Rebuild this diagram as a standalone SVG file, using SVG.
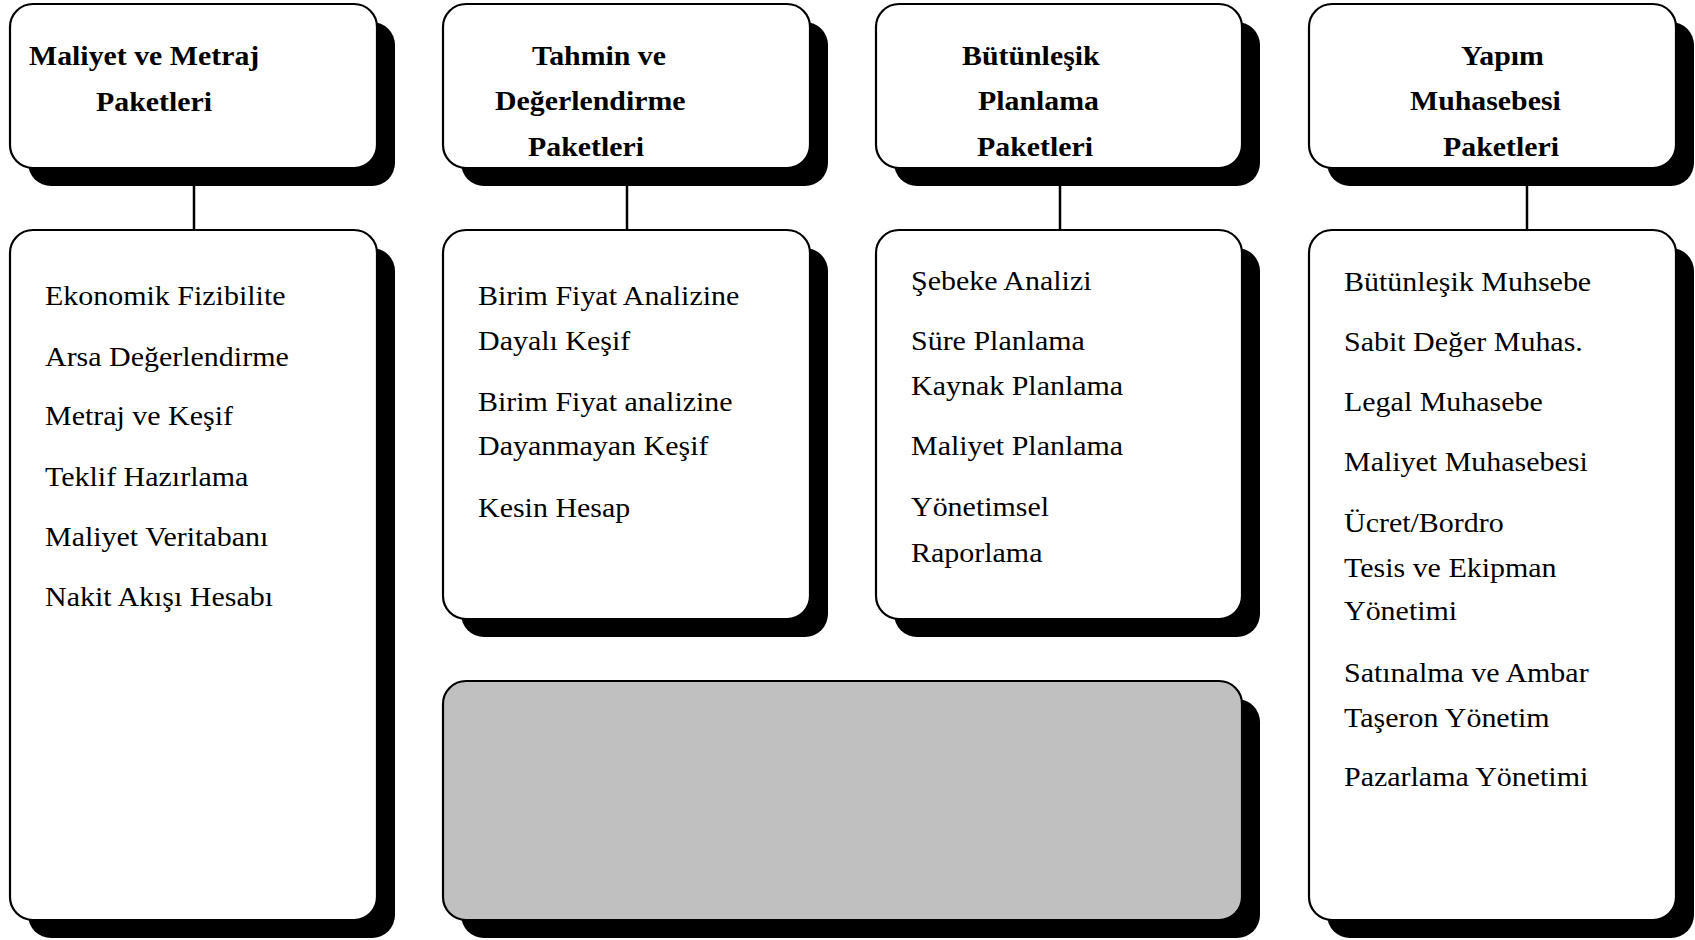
<svg xmlns="http://www.w3.org/2000/svg" width="1695" height="940" viewBox="0 0 1695 940">
<style>
.sh{fill:#000;stroke:none}
.bx{fill:#fff;stroke:#000;stroke-width:2.2}
.gr{fill:#c0c0c0;stroke:#000;stroke-width:2.2}
.t{font-family:"Liberation Serif","Times New Roman",serif;font-size:27.5px;fill:#000}
.h{font-family:"Liberation Serif","Times New Roman",serif;font-size:27.5px;font-weight:bold;fill:#000}
.cn{stroke:#000;stroke-width:2.5;fill:none}
</style>
<rect width="1695" height="940" fill="#fff"/>
<g id="connectors">
<line class="cn" x1="194" y1="180" x2="194" y2="231"/>
<line class="cn" x1="627" y1="180" x2="627" y2="231"/>
<line class="cn" x1="1060" y1="180" x2="1060" y2="231"/>
<line class="cn" x1="1527" y1="180" x2="1527" y2="231"/>
</g>
<g id="head1">
<rect class="sh" x="28" y="22" width="367" height="164" rx="23"/>
<rect class="bx" x="10" y="4" width="367" height="164" rx="23"/>
<text class="h" transform="translate(29 65) scale(1.085 1)">Maliyet ve Metraj</text>
<text class="h" transform="translate(96 111) scale(1.085 1)">Paketleri</text>
</g>
<g id="head2">
<rect class="sh" x="461" y="22" width="367" height="164" rx="23"/>
<rect class="bx" x="443" y="4" width="367" height="164" rx="23"/>
<text class="h" transform="translate(532 65) scale(1.085 1)">Tahmin ve</text>
<text class="h" transform="translate(495 110) scale(1.085 1)">Değerlendirme</text>
<text class="h" transform="translate(528 156) scale(1.085 1)">Paketleri</text>
</g>
<g id="head3">
<rect class="sh" x="894" y="22" width="366" height="164" rx="23"/>
<rect class="bx" x="876" y="4" width="366" height="164" rx="23"/>
<text class="h" transform="translate(962 65) scale(1.085 1)">Bütünleşik</text>
<text class="h" transform="translate(978 110) scale(1.085 1)">Planlama</text>
<text class="h" transform="translate(977 156) scale(1.085 1)">Paketleri</text>
</g>
<g id="head4">
<rect class="sh" x="1327" y="22" width="367" height="164" rx="23"/>
<rect class="bx" x="1309" y="4" width="367" height="164" rx="23"/>
<text class="h" transform="translate(1461 65) scale(1.085 1)">Yapım</text>
<text class="h" transform="translate(1410 110) scale(1.085 1)">Muhasebesi</text>
<text class="h" transform="translate(1443 156) scale(1.085 1)">Paketleri</text>
</g>
<g id="list1">
<rect class="sh" x="28" y="248" width="367" height="690" rx="23"/>
<rect class="bx" x="10" y="230" width="367" height="690" rx="23"/>
<text class="t" transform="translate(45 305) scale(1.09 1)">Ekonomik Fizibilite</text>
<text class="t" transform="translate(45 366) scale(1.09 1)">Arsa Değerlendirme</text>
<text class="t" transform="translate(45 425) scale(1.09 1)">Metraj ve Keşif</text>
<text class="t" transform="translate(45 486) scale(1.09 1)">Teklif Hazırlama</text>
<text class="t" transform="translate(45 546) scale(1.09 1)">Maliyet Veritabanı</text>
<text class="t" transform="translate(45 606) scale(1.09 1)">Nakit Akışı Hesabı</text>
</g>
<g id="list2">
<rect class="sh" x="461" y="248" width="367" height="389" rx="23"/>
<rect class="bx" x="443" y="230" width="367" height="389" rx="23"/>
<text class="t" transform="translate(478 305) scale(1.09 1)">Birim Fiyat Analizine</text>
<text class="t" transform="translate(478 350) scale(1.09 1)">Dayalı Keşif</text>
<text class="t" transform="translate(478 411) scale(1.09 1)">Birim Fiyat analizine</text>
<text class="t" transform="translate(478 455) scale(1.09 1)">Dayanmayan Keşif</text>
<text class="t" transform="translate(478 517) scale(1.09 1)">Kesin Hesap</text>
</g>
<g id="list3">
<rect class="sh" x="894" y="248" width="366" height="389" rx="23"/>
<rect class="bx" x="876" y="230" width="366" height="389" rx="23"/>
<text class="t" transform="translate(911 290) scale(1.09 1)">Şebeke Analizi</text>
<text class="t" transform="translate(911 350) scale(1.09 1)">Süre Planlama</text>
<text class="t" transform="translate(911 395) scale(1.09 1)">Kaynak Planlama</text>
<text class="t" transform="translate(911 455) scale(1.09 1)">Maliyet Planlama</text>
<text class="t" transform="translate(911 516) scale(1.09 1)">Yönetimsel</text>
<text class="t" transform="translate(911 562) scale(1.09 1)">Raporlama</text>
</g>
<g id="list4">
<rect class="sh" x="1327" y="248" width="367" height="690" rx="23"/>
<rect class="bx" x="1309" y="230" width="367" height="690" rx="23"/>
<text class="t" transform="translate(1344 291) scale(1.09 1)">Bütünleşik Muhsebe</text>
<text class="t" transform="translate(1344 351) scale(1.09 1)">Sabit Değer Muhas.</text>
<text class="t" transform="translate(1344 411) scale(1.09 1)">Legal Muhasebe</text>
<text class="t" transform="translate(1344 471) scale(1.09 1)">Maliyet Muhasebesi</text>
<text class="t" transform="translate(1344 532) scale(1.09 1)">Ücret/Bordro</text>
<text class="t" transform="translate(1344 577) scale(1.09 1)">Tesis ve Ekipman</text>
<text class="t" transform="translate(1344 620) scale(1.09 1)">Yönetimi</text>
<text class="t" transform="translate(1344 682) scale(1.09 1)">Satınalma ve Ambar</text>
<text class="t" transform="translate(1344 727) scale(1.09 1)">Taşeron Yönetim</text>
<text class="t" transform="translate(1344 786) scale(1.09 1)">Pazarlama Yönetimi</text>
</g>
<g id="grey">
<rect class="sh" x="461" y="699" width="799" height="239" rx="23"/>
<rect class="gr" x="443" y="681" width="799" height="239" rx="23"/>
</g>
</svg>
